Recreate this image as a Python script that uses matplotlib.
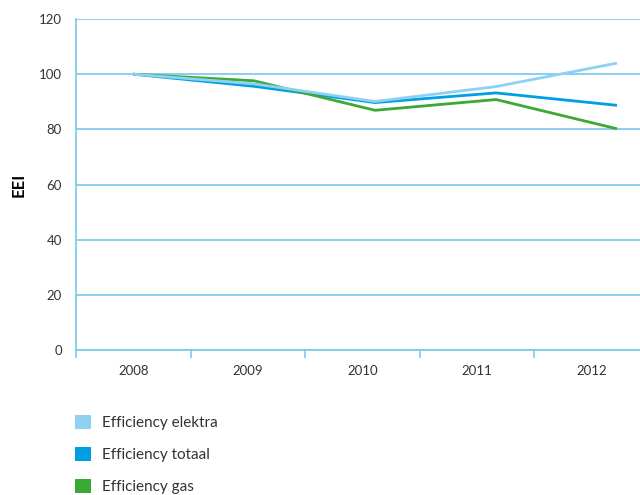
import matplotlib
matplotlib.use("Agg")
import matplotlib.pyplot as plt
from matplotlib.patches import Patch

# data
years = [2008, 2009, 2010, 2011, 2012]
elektra = [100, 96.5, 90.1, 95.5, 104.0]
totaal = [100, 95.6, 89.7, 93.2, 88.7]
gas = [100, 97.6, 86.9, 90.8, 80.2]
labels = ["Efficiency elektra", "Efficiency totaal", "Efficiency gas"]
yticks = [0, 20, 40, 60, 80, 100, 120]

c_elektra = "#8fd1f3"
c_totaal = "#009fe3"
c_gas = "#3aaa35"
c_grid = "#7fcbee"
c_text = "#333333"

plt.rcParams["font.family"] = ["Lato", "DejaVu Sans"]

fig = plt.figure(figsize=(6.4, 4.95), dpi=100)
ax = fig.add_axes([76 / 640, 145 / 495, 573 / 640, 331 / 495])

# category axis: bands with ticks on the boundaries, labels in the middle
n = len(years)
ax.set_xlim(0, n)
ax.set_ylim(0, 120)
ax.set_xticks(range(n + 1))
ax.set_xticklabels([])
ax.set_xticks([i + 0.5 for i in range(n)], minor=True)
ax.set_xticklabels([str(y) for y in years], minor=True)
ax.tick_params(axis="x", which="major", length=6, width=1.2, color=c_grid)
ax.tick_params(axis="x", which="minor", length=0, pad=11, labelsize=9.5, labelcolor=c_text)

ax.set_yticks(yticks)
ax.tick_params(axis="y", length=0, pad=10, labelsize=9.5, labelcolor=c_text)
ax.yaxis.grid(True, color=c_grid, linewidth=1.3)
ax.set_axisbelow(True)

for s in ["top", "right"]:
    ax.spines[s].set_visible(False)
for s in ["left", "bottom"]:
    ax.spines[s].set_color(c_grid)
    ax.spines[s].set_linewidth(1.3)

ax.set_ylabel("EEI", fontsize=12, fontweight="bold", color="black", labelpad=9)

# the lines sit on their own year scale (slightly wider spacing than the bands)
lx = ax.twiny()
lx.set_xlim(2008 - 57 / 121, 2012 + 32 / 121)
lx.set_ylim(0, 120)
lx.axis("off")
lx.plot(years, totaal, color=c_totaal, linewidth=2.0, solid_capstyle="butt")
lx.plot(years, gas, color=c_gas, linewidth=2.0, solid_capstyle="butt")
lx.plot(years, elektra, color=c_elektra, linewidth=2.0, solid_capstyle="butt")

handles = [Patch(facecolor=c, edgecolor="none") for c in [c_elektra, c_totaal, c_gas]]
fig.legend(handles, labels, loc="upper left", bbox_to_anchor=(61 / 640, 1 - 401 / 495),
           frameon=False, fontsize=11, handlelength=1.05, handleheight=1.05,
           handletextpad=0.75, labelspacing=1.1, labelcolor=c_text)

fig.savefig("out.png", dpi=100)
